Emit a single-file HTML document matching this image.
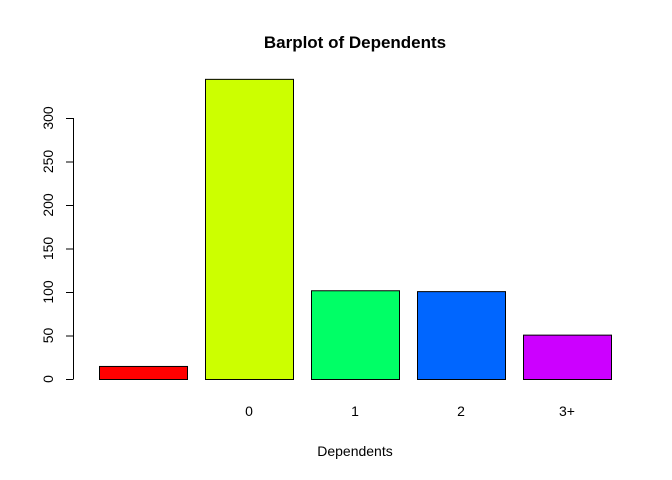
<!DOCTYPE html>
<html><head><meta charset="utf-8"><style>body{margin:0;background:#fff}svg{display:block;font-family:"Liberation Sans",Arial,sans-serif}</style></head>
<body>
<svg id="chart" width="672" height="480">
<text x="355" y="48" text-anchor="middle" font-weight="bold" font-size="17">Barplot of Dependents</text>
<text x="355" y="456" text-anchor="middle" font-size="14">Dependents</text>
<g id="bars"></g><g id="yaxis"></g><g id="xlabels"></g>
</svg>
<script>
const categories = ["", "0", "1", "2", "3+"];
const values = [15, 345, 102, 101, 51];
const colors = ["#FF0000", "#CCFF00", "#00FF66", "#0066FF", "#CC00FF"];
const yTicks = [0, 50, 100, 150, 200, 250, 300];
const NS = "http://www.w3.org/2000/svg";
const y0 = 379, pxPer = 0.87;
const y = v => y0 - v * pxPer;
const barX = i => 99 + i * 106;
const bw = 88;
const bars = document.getElementById('bars');
const xl = document.getElementById('xlabels');
values.forEach((v, i) => {
  const r = document.createElementNS(NS, 'rect');
  r.setAttribute('x', barX(i) + 0.5); r.setAttribute('y', y(v) + 0.5);
  r.setAttribute('width', bw); r.setAttribute('height', y0 - y(v));
  r.setAttribute('fill', colors[i]); r.setAttribute('stroke', '#000');
  
  
  bars.appendChild(r);
  if (categories[i]) {
    const t = document.createElementNS(NS, 'text');
    t.setAttribute('x', barX(i) + bw / 2); t.setAttribute('y', 416);
    t.setAttribute('text-anchor', 'middle'); t.setAttribute('font-size', '14');
    t.textContent = categories[i];
    
    
    xl.appendChild(t);
  }
});
const ya = document.getElementById('yaxis');
const ax = document.createElementNS(NS, 'line');
ax.setAttribute('x1', 73.5); ax.setAttribute('x2', 73.5);
ax.setAttribute('y1', y(yTicks[0])); ax.setAttribute('y2', y(yTicks[yTicks.length - 1]));
ax.setAttribute('stroke', '#000');


ya.appendChild(ax);
yTicks.forEach(v => {
  const l = document.createElementNS(NS, 'line');
  l.setAttribute('x1', 66); l.setAttribute('x2', 73.5);
  l.setAttribute('y1', y(v) + 0.5); l.setAttribute('y2', y(v) + 0.5);
  l.setAttribute('stroke', '#000');
  
  
  ya.appendChild(l);
  const t = document.createElementNS(NS, 'text');
  t.setAttribute('transform', `translate(53,${y(v)}) rotate(-90)`);
  t.setAttribute('text-anchor', 'middle'); t.setAttribute('font-size', '14');
  t.textContent = v;
  
  
  ya.appendChild(t);
});
</script>
</body></html>
